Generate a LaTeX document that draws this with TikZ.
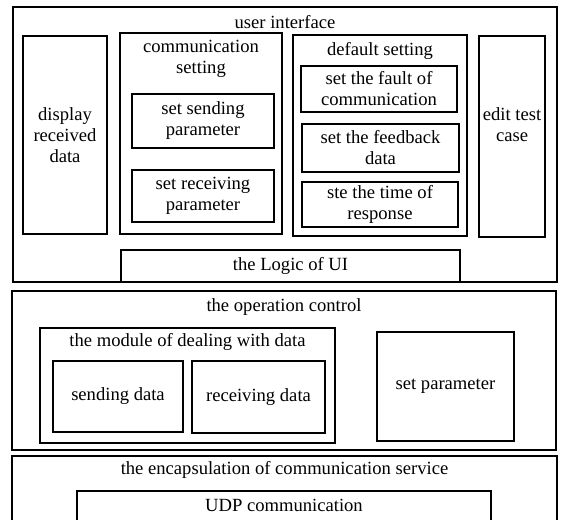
\documentclass[tikz,border=0pt]{standalone}
\usepackage{fontspec}
\setmainfont{Liberation Serif}
\begin{document}
\begin{tikzpicture}[x=1pt, y=-1pt,
  box/.style={draw, line width=1.3pt, inner sep=0pt, align=center},
  title/.style={inner sep=0pt, align=center},
  every node/.append style={font=\fontsize{18.6}{21}\selectfont}]
\useasboundingbox (0,0) rectangle (563,520);
\clip (0,0) rectangle (563,520);

% user interface layer
\node[box, minimum width=544pt, minimum height=275pt] (ui) at (285,144.5) {};
\node[title] (uiT) at (285,22) {user interface};
\node[box, minimum width=84pt, minimum height=198pt] (disp) at (65,135) {display\\received\\data};
\node[box, minimum width=162pt, minimum height=201pt] (comm) at (201,133.5) {};
\node[title] (commT) at (201,59) {communication\\setting};
\node[box, minimum width=142pt, minimum height=54pt] (send) at (203,121) {set sending\\parameter};
\node[box, minimum width=142pt, minimum height=52pt] (recv) at (203,196) {set receiving\\parameter};
\node[box, minimum width=174pt, minimum height=201pt] (dflt) at (380,135.5) {};
\node[title] (dfltT) at (380,50.5) {default setting};
\node[box, minimum width=156pt, minimum height=46pt] (fault) at (379,89) {set the fault of\\communication};
\node[box, minimum width=157pt, minimum height=48pt] (feed) at (380.5,148) {set the feedback\\data};
\node[box, minimum width=156pt, minimum height=45pt] (time) at (380,204.5) {ste the time of\\response};
\node[box, minimum width=66pt, minimum height=201pt] (edit) at (512,136.5) {};
\node[title] (editT) at (512,125) {edit test\\case};
\node[box, minimum width=339pt, minimum height=32pt] (logic) at (290.5,266) {the Logic of UI};

% operation control layer
\node[box, minimum width=544pt, minimum height=159pt] (opc) at (284,370.5) {};
\node[title] (opcT) at (284,307) {the operation control};
\node[box, minimum width=295pt, minimum height=115pt] (mod) at (187.5,385.5) {};
\node[title] (modT) at (187.5,341.5) {the module of dealing with data};
\node[box, minimum width=130pt, minimum height=71pt] (sdat) at (118,396.5) {sending data};
\node[box, minimum width=133pt, minimum height=72pt] (rdat) at (258.5,397) {receiving data};
\node[box, minimum width=137pt, minimum height=109pt] (spar) at (445.5,386.5) {set parameter};

% communication service layer
\node[box, minimum width=545pt, minimum height=80pt] (enc) at (284.5,496) {};
\node[title] (encT) at (284.5,470) {the encapsulation of communication service};
\node[box, minimum width=414pt, minimum height=50pt] (udp) at (284,516) {};
\node[title] (udpT) at (284,505) {UDP communication};
\end{tikzpicture}
\end{document}
